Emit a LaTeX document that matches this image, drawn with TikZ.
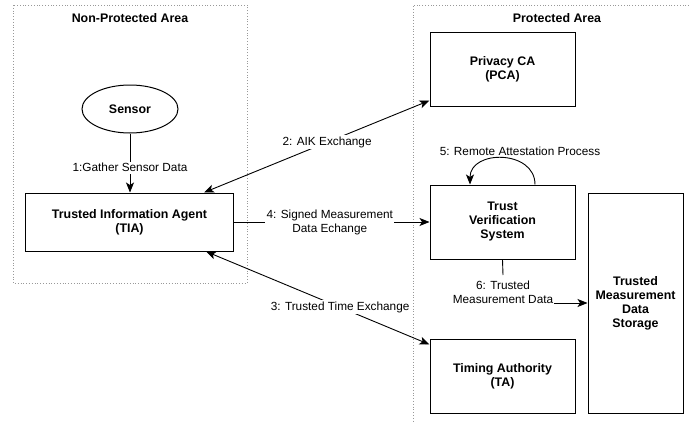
\documentclass[tikz,border=0pt]{standalone}
\usepackage{fontspec}
\setmainfont{Liberation Sans}
\usetikzlibrary{arrows.meta,positioning,shapes.geometric}
\begin{document}
\begin{tikzpicture}[x=1pt,y=-1pt,
  font=\fontsize{11.8}{14}\selectfont,
  box/.style={draw,line width=1pt,align=center,font=\fontsize{12.4}{14}\selectfont\bfseries,inner sep=0pt},
  area/.style={draw=gray!80,dotted,line width=0.8pt},
  tip/.tip={Stealth[length=10pt,width=8pt,inset=2.5pt]},
  arr/.style={line width=0.9pt,-tip},
  darr/.style={line width=0.9pt,tip-tip},
  lbl/.style={fill=white,inner sep=1.5pt,align=center}]
\useasboundingbox (0,0) rectangle (689,423);
% areas
\draw[area] (13,5) rectangle (247,283);
\draw[area] (689,5) -- (413,5) -- (413,423);
\node[font=\fontsize{12.4}{14}\selectfont\bfseries] (npa) at (130,18) {Non-Protected Area};
\node[font=\fontsize{12.4}{14}\selectfont\bfseries] (pa) at (557,18) {Protected Area};
% nodes
\node[box,ellipse,minimum width=96pt,minimum height=48pt] (sensor) at (130,109) {Sensor};
\node[box,minimum width=208pt,minimum height=58pt] (tia) at (129.5,222) {Trusted Information Agent\\(TIA)};
\node[box,minimum width=145pt,minimum height=74pt] (pca) at (502.5,69) {Privacy CA\\(PCA)};
\node[box,minimum width=145pt,minimum height=74pt] (tvs) at (502.5,222) {Trust\\Verification\\System};
\node[box,minimum width=145pt,minimum height=74pt] (ta) at (502.5,376) {Timing Authority\\(TA)};
\node[box,minimum width=95pt,minimum height=220pt] (tmds) at (635.5,303) {Trusted\\Measurement\\Data\\Storage};
% edges
\draw[arr] (sensor.south) -- node[lbl,pos=0.58] {1:Gather Sensor Data} (sensor.south |- tia.north);
\draw[darr] ([xshift=-30pt]tia.north east) -- node[lbl,pos=0.546] {2: AIK Exchange} ([yshift=6pt]pca.south west);
\draw[darr] ([xshift=-28pt]tia.south east) -- node[lbl,pos=0.6] {3: Trusted Time Exchange} ([yshift=-6pt]ta.north west);
\draw[arr] (tia.east) -- node[lbl,pos=0.49] {4: Signed Measurement\\Data Echange} (tvs.east -| tvs.west);
\draw[arr] ([xshift=32.5pt]tvs.north) .. controls ([xshift=32.5pt,yshift=35pt]tvs.north) and ([xshift=-32.5pt,yshift=35pt]tvs.north) .. ([xshift=-32.5pt]tvs.north);
\node (l5) at (520,151) {5: Remote Attestation Process};
\node[inner sep=1pt,align=center,anchor=north] (l6) at (503,279.5) {6: Trusted\\Measurement Data};
\draw[line width=0.9pt] (tvs.south) -- ([yshift=4.5pt]l6.north);
\draw[arr] (l6.east |- tmds.west) -- (tmds.west);
\end{tikzpicture}
\end{document}
